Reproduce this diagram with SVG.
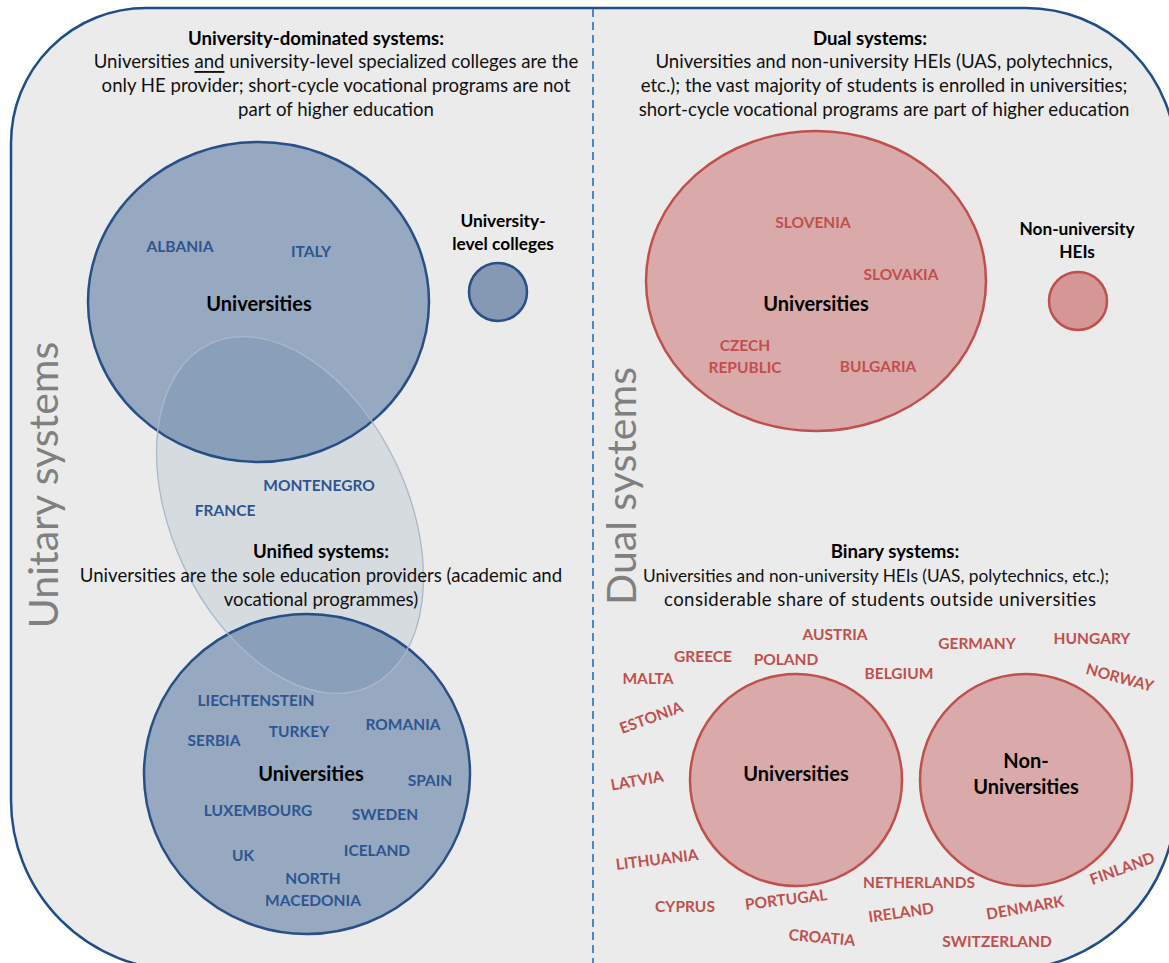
<svg xmlns="http://www.w3.org/2000/svg" width="1169" height="963" viewBox="0 0 1169 963">
<style>
text{font-family:Lato,"Open Sans",sans-serif;dominant-baseline:central;text-anchor:middle}
.h{font-weight:bold;font-size:18.6px;fill:#000}
.b{font-size:18.6px;fill:#111}
.lbl{font-weight:bold;font-size:20px;fill:#000}
.sm{font-weight:bold;font-size:17.3px;fill:#000}
.cb{font-weight:bold;font-size:15.5px;fill:#2e5590}
.cr{font-weight:bold;font-size:15.5px;fill:#c0504d}
.big{font-size:41px;fill:#808080}
.bc{fill:#97a9c1;stroke:#284f86;stroke-width:2.5}
.rc{fill:#d9aaa9;stroke:#c0504d;stroke-width:2.5}
</style>
<rect width="1169" height="963" fill="#ffffff"/>
<g id="frame">
<path d="M11,143 A135,135 0 0 1 146,8 L1026,8 A150,150 0 0 1 1176,158 L1176,800 A170,170 0 0 1 1006,970 L181,970 A170,170 0 0 1 11,800 Z" fill="#ebebeb" stroke="#1f4e87" stroke-width="2.5"/>
</g>
<g id="connectors">
<line x1="593" y1="9" x2="593" y2="963" stroke="#4a86c8" stroke-width="2" stroke-dasharray="8,5"/>
</g>
<g id="unitary-label"><text class="big" x="42" y="485" transform="rotate(-90 42 485)">Unitary systems</text></g>
<g id="dual-label"><text class="big" x="620" y="486" transform="rotate(-90 620 486)">Dual systems</text></g>
<g id="univ-dominated-text">
<text class="h" x="316" y="38">University-dominated systems:</text>
<text class="b" x="336" y="61">Universities <tspan text-decoration="underline">and</tspan> university-level specialized colleges are the</text>
<text class="b" x="336" y="85">only HE provider; short-cycle vocational programs are not</text>
<text class="b" x="336" y="109">part of higher education</text>
</g>
<g id="dual-text">
<text class="h" x="870" y="38">Dual systems:</text>
<text class="b" x="884" y="61">Universities and non-university HEIs (UAS, polytechnics,</text>
<text class="b" x="884" y="85">etc.);  the vast majority of students is enrolled in universities;</text>
<text class="b" x="884" y="109">short-cycle vocational programs are part of higher education</text>
</g>
<g id="univ-top-left">
<ellipse class="bc" cx="258.5" cy="302" rx="170.5" ry="160"/>
<text class="lbl" x="259" y="303">Universities</text>
<text class="cb" x="180" y="246">ALBANIA</text>
<text class="cb" x="311" y="251">ITALY</text>
</g>
<g id="univ-level-colleges">
<circle cx="498" cy="292" r="29" fill="#8599b5" stroke="#284f86" stroke-width="2.5"/>
<text class="sm" x="503" y="220">University-</text>
<text class="sm" x="503" y="243">level colleges</text>
</g>
<g id="univ-bottom-left">
<ellipse class="bc" cx="307" cy="774" rx="163" ry="160"/>
<text class="lbl" x="311" y="773">Universities</text>
<text class="cb" x="256" y="700">LIECHTENSTEIN</text>
<text class="cb" x="299" y="731">TURKEY</text>
<text class="cb" x="403" y="724">ROMANIA</text>
<text class="cb" x="214" y="740">SERBIA</text>
<text class="cb" x="430" y="780">SPAIN</text>
<text class="cb" x="258" y="810">LUXEMBOURG</text>
<text class="cb" x="385" y="814">SWEDEN</text>
<text class="cb" x="243" y="855">UK</text>
<text class="cb" x="377" y="850">ICELAND</text>
<text class="cb" x="313" y="878">NORTH</text>
<text class="cb" x="313" y="900">MACEDONIA</text>
</g>
<g id="unified-systems">
<ellipse cx="290" cy="515" rx="118" ry="189" transform="rotate(-25 290 515)" fill="#1f4e79" fill-opacity="0.1" stroke="#a9b8cc" stroke-width="1.3"/>
<text class="cb" x="319" y="485">MONTENEGRO</text>
<text class="cb" x="225" y="510">FRANCE</text>
<text class="h" x="321" y="551">Unified systems:</text>
<text class="b" x="321" y="575">Universities are the sole education providers (academic and</text>
<text class="b" x="321" y="599">vocational programmes)</text>
</g>
<g id="univ-dual">
<ellipse class="rc" cx="816" cy="281" rx="170" ry="150"/>
<text class="lbl" x="816" y="303">Universities</text>
<text class="cr" x="813" y="222">SLOVENIA</text>
<text class="cr" x="901" y="274">SLOVAKIA</text>
<text class="cr" x="745" y="345">CZECH</text>
<text class="cr" x="745" y="367">REPUBLIC</text>
<text class="cr" x="878" y="366">BULGARIA</text>
</g>
<g id="non-univ-heis">
<circle cx="1078" cy="301" r="29" fill="#d49796" stroke="#c0504d" stroke-width="2.5"/>
<text class="sm" x="1077" y="228">Non-university</text>
<text class="sm" x="1077" y="251">HEIs</text>
</g>
<g id="binary-text">
<text class="h" x="895" y="551">Binary systems:</text>
<text class="b" x="876" y="575" style="font-size:17.3px">Universities and non-university HEIs (UAS, polytechnics, etc.);</text>
<text class="b" x="880" y="599" textLength="432">considerable share of students outside universities</text>
</g>
<g id="binary-univ">
<circle class="rc" cx="796" cy="780" r="106"/>
<text class="lbl" x="796" y="773">Universities</text>
</g>
<g id="binary-nonuniv">
<circle class="rc" cx="1026" cy="780" r="106"/>
<text class="lbl" x="1026" y="760">Non-</text>
<text class="lbl" x="1026" y="786">Universities</text>
</g>
<g id="binary-countries">
<text class="cr" x="835" y="634">AUSTRIA</text>
<text class="cr" x="703" y="656">GREECE</text>
<text class="cr" x="786" y="659">POLAND</text>
<text class="cr" x="648" y="678">MALTA</text>
<text class="cr" x="899" y="673">BELGIUM</text>
<text class="cr" x="977" y="643">GERMANY</text>
<text class="cr" x="1092" y="638">HUNGARY</text>
<text class="cr" x="1120" y="677" transform="rotate(15 1120 677)">NORWAY</text>
<text class="cr" x="651" y="717" transform="rotate(-20 651 717)">ESTONIA</text>
<text class="cr" x="637" y="780" transform="rotate(-10 637 780)">LATVIA</text>
<text class="cr" x="657" y="859" transform="rotate(-7 657 859)">LITHUANIA</text>
<text class="cr" x="685" y="906">CYPRUS</text>
<text class="cr" x="786" y="899" transform="rotate(-7 786 899)">PORTUGAL</text>
<text class="cr" x="822" y="937" transform="rotate(5 822 937)">CROATIA</text>
<text class="cr" x="919" y="882">NETHERLANDS</text>
<text class="cr" x="901" y="912" transform="rotate(-8 901 912)">IRELAND</text>
<text class="cr" x="1025" y="907" transform="rotate(-10 1025 907)">DENMARK</text>
<text class="cr" x="997" y="941">SWITZERLAND</text>
<text class="cr" x="1122" y="868" transform="rotate(-20 1122 868)">FINLAND</text>
</g>
</svg>
